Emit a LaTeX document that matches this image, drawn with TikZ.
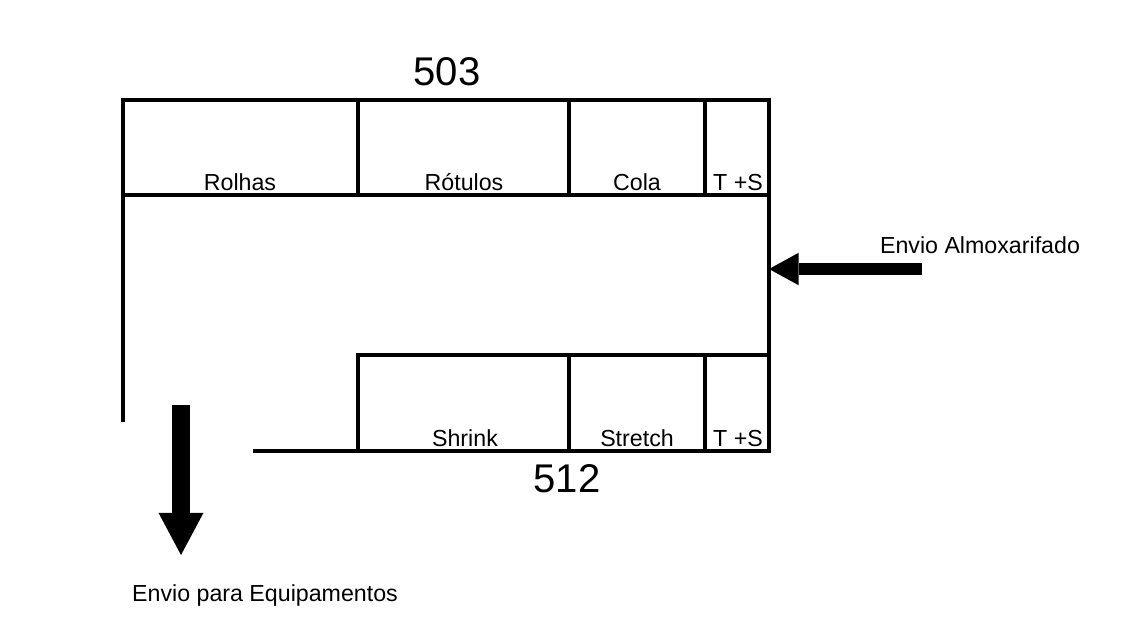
\documentclass[tikz,border=0pt]{standalone}
\usepackage{fontspec}
\setmainfont{Liberation Sans}
\usetikzlibrary{arrows.meta, positioning}

\begin{document}
\begin{tikzpicture}[x=0.025cm, y=-0.025cm,
		wall/.style={line width=2.5pt, line cap=rect},
		shelflabel/.style={anchor=base, inner sep=0pt, font=\fontsize{16.5}{18}\selectfont},
		areanum/.style={anchor=base, inner sep=0pt, font=\fontsize{28.5}{30}\selectfont},
		flowlabel/.style={anchor=base, inner sep=0pt, font=\fontsize{16.5}{18}\selectfont},
		fatarrow/.style={-{Triangle[length=#1, width=#1+2pt, line width=0pt]}}]
	
	\useasboundingbox (0,0) rectangle (1146,631);
	
	% Walls of the store
	\draw[wall] (123,420) -- (123,100) -- (769,100) -- (769,451) -- (255,451);
	\draw[wall] (123,195) -- (769,195);
	\draw[wall] (358,451) -- (358,355) -- (769,355);
	
	% Shelf dividers
	\foreach \x in {358,569,705} {
		\draw[wall] (\x,100) -- (\x,195);
	}
	\foreach \x in {569,705} {
		\draw[wall] (\x,355) -- (\x,451);
	}
	
	% Area numbers
	\node[areanum] (n503) at (447,85) {503};
	\node[areanum] (n512) at (567,492) {512};
	
	% Upper shelf labels
	\node[shelflabel] (rolhas) at (240,190) {Rolhas};
	\node[shelflabel] (rotulos) at (464,190) {Rótulos};
	\node[shelflabel] (cola) at (637,190) {Cola};
	\node[shelflabel] (tsup) at (738,190) {T +S};
	
	% Lower shelf labels
	\node[shelflabel] (shrink) at (465,446) {Shrink};
	\node[shelflabel] (stretch) at (637,446) {Stretch};
	\node[shelflabel] (tslow) at (738,446) {T +S};
	
	% Flows in and out
	\node[flowlabel] (almox) at (980,253) {Envio Almoxarifado};
	\node[flowlabel] (equip) at (265,601) {Envio para Equipamentos};
	
	\coordinate (almoxstart) at (922,269);
	\coordinate (almoxend) at (769,269);
	\coordinate (equipstart) at (181,405);
	\coordinate (equipend) at (181,555);
	
	\draw[fatarrow=21pt, line width=8.5pt] (almoxstart) -- (almoxend);
	\draw[fatarrow=30pt, line width=13.5pt] (equipstart) -- (equipend);
	
\end{tikzpicture}
\end{document}
